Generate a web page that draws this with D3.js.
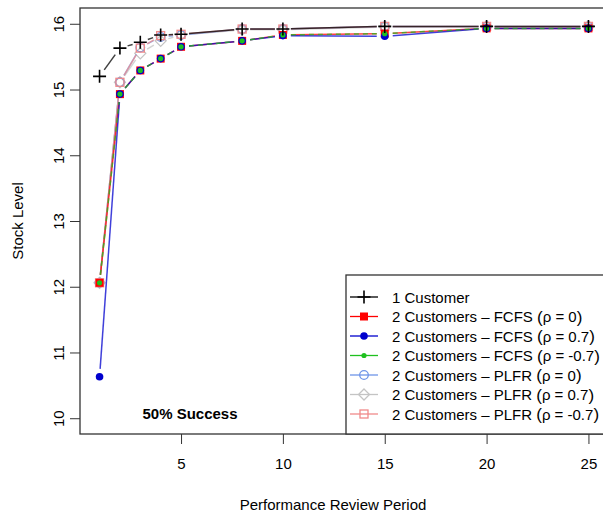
<!DOCTYPE html>
<html>
<head>
<meta charset="utf-8">
<script src="https://cdn.jsdelivr.net/npm/d3@7"></script>
<style>
  html, body { margin: 0; padding: 0; background: #fff; }
  svg { display: block; font-family: "Liberation Sans", Arial, Helvetica, sans-serif; }
</style>
</head>
<body>
<svg id="chart" width="603" height="517"></svg>
<script>
// Review periods on the x axis
const periods = [1, 2, 3, 4, 5, 8, 10, 15, 20, 25];

// Stock level for each policy and correlation
const oneCustomer = [15.20, 15.63, 15.72, 15.83, 15.84, 15.92, 15.92, 15.96, 15.96, 15.96];
const fcfsRho0    = [12.06, 14.93, 15.29, 15.47, 15.65, 15.74, 15.83, 15.85, 15.93, 15.93];
const fcfsRho07   = [10.63, 14.93, 15.29, 15.47, 15.65, 15.74, 15.82, 15.81, 15.93, 15.93];
const fcfsRhoM07  = [12.06, 14.93, 15.29, 15.47, 15.65, 15.74, 15.83, 15.85, 15.93, 15.93];
const plfrRho0    = [12.06, 15.11, 15.64, 15.80, 15.83, 15.92, 15.92, 15.96, 15.96, 15.96];
const plfrRho07   = [12.06, 15.11, 15.55, 15.74, 15.83, 15.91, 15.91, 15.95, 15.96, 15.96];
const plfrRhoM07  = [12.06, 15.11, 15.63, 15.82, 15.84, 15.92, 15.92, 15.96, 15.96, 15.96];

// Axis ticks
const xTicks = [5, 10, 15, 20, 25];
const yTicks = [10, 11, 12, 13, 14, 15, 16];

// Legend labels: prefix, rho value
const legendPrefix = ["1 Customer",
  "2 Customers \u2013 FCFS ", "2 Customers \u2013 FCFS ", "2 Customers \u2013 FCFS ",
  "2 Customers \u2013 PLFR ", "2 Customers \u2013 PLFR ", "2 Customers \u2013 PLFR "];
const legendRho = [null, "0", "0.7", "-0.7", "0", "0.7", "-0.7"];

const series = [
  { values: oneCustomer, color: "#000000", shape: "plus",    dash: null },
  { values: fcfsRho0,    color: "#ff0000", shape: "fsquare", dash: null },
  { values: fcfsRho07,   color: "#0000cd", shape: "fcircle", dash: null },
  { values: fcfsRhoM07,  color: "#1fc01f", shape: "dot",     dash: "5,4" },
  { values: plfrRho0,    color: "#6f95e8", shape: "ocircle", dash: null },
  { values: plfrRho07,   color: "#c4c4c4", shape: "diamond", dash: null },
  { values: plfrRhoM07,  color: "#f08a8a", shape: "osquare", dash: null }
];
// drawing order: PLFR first, then FCFS, then single customer on top
const drawOrder = [5, 4, 6, 1, 2, 3, 0];

const svg = d3.select("#chart");
svg.append("rect").attr("width", 603).attr("height", 517).attr("fill", "#fff");

const x = d3.scaleLinear().domain([0.04, 25.96]).range([80, 608]);
const y = d3.scaleLinear().domain([9.76, 16.24]).range([434, 8]);

function drawMarker(g, shape, color, cx, cy) {
  if (shape === "plus") {
    g.append("path").attr("d", `M${cx-6.5},${cy}H${cx+6.5}M${cx},${cy-6.5}V${cy+6.5}`)
      .attr("stroke", color).attr("stroke-width", 1.6).attr("fill", "none");
  } else if (shape === "fsquare") {
    g.append("rect").attr("x", cx-4).attr("y", cy-4).attr("width", 8).attr("height", 8)
      .attr("fill", color);
  } else if (shape === "fcircle") {
    g.append("circle").attr("cx", cx).attr("cy", cy).attr("r", 3.8).attr("fill", color);
  } else if (shape === "dot") {
    g.append("circle").attr("cx", cx).attr("cy", cy).attr("r", 2.6).attr("fill", color);
  } else if (shape === "ocircle") {
    g.append("circle").attr("cx", cx).attr("cy", cy).attr("r", 4.3)
      .attr("fill", "none").attr("stroke", color).attr("stroke-width", 1.3);
  } else if (shape === "diamond") {
    g.append("path").attr("d", `M${cx},${cy-5.5}L${cx+5.5},${cy}L${cx},${cy+5.5}L${cx-5.5},${cy}Z`)
      .attr("fill", "none").attr("stroke", color).attr("stroke-width", 1.3);
  } else if (shape === "osquare") {
    g.append("rect").attr("x", cx-4).attr("y", cy-4).attr("width", 8).attr("height", 8)
      .attr("fill", "none").attr("stroke", color).attr("stroke-width", 1.3);
  }
}

// Plot series as points joined by segments that stop short of each point
const gap = 8;
const plot = svg.append("g");
drawOrder.forEach(i => {
  const s = series[i];
  const g = plot.append("g");
  const pts = periods.map((p, k) => [x(p), y(s.values[k])]);
  for (let k = 0; k < pts.length - 1; k++) {
    const [x0, y0] = pts[k], [x1, y1] = pts[k + 1];
    const len = Math.hypot(x1 - x0, y1 - y0);
    if (len <= 2 * gap) continue;
    const ux = (x1 - x0) / len, uy = (y1 - y0) / len;
    g.append("line")
      .attr("x1", x0 + ux * gap).attr("y1", y0 + uy * gap)
      .attr("x2", x1 - ux * gap).attr("y2", y1 - uy * gap)
      .attr("stroke", s.color).attr("stroke-width", 1.5)
      .attr("stroke-opacity", 0.75)
      .attr("stroke-dasharray", s.dash);
  }
  pts.forEach(([cx, cy]) => drawMarker(g, s.shape, s.color, cx, cy));
});

// Axes
const xAxis = svg.append("g").attr("transform", "translate(0,434)")
  .call(d3.axisBottom(x).tickValues(xTicks).tickFormat(d3.format("d")).tickSize(10).tickPadding(14));
xAxis.select(".domain").remove();
xAxis.selectAll("line").attr("stroke", "#333");
xAxis.selectAll("text").attr("font-size", 15).attr("fill", "#000")
  .attr("font-family", "Liberation Sans, Arial, sans-serif");

const yAxis = svg.append("g").attr("transform", "translate(80,0)")
  .call(d3.axisLeft(y).tickValues(yTicks).tickFormat(d3.format("d")).tickSize(10));
yAxis.select(".domain").remove();
yAxis.selectAll("line").attr("stroke", "#333");
yAxis.selectAll("text")
  .attr("transform", "rotate(-90)")
  .attr("x", 0).attr("y", -16).attr("dy", 0)
  .attr("text-anchor", "middle")
  .attr("font-size", 15).attr("fill", "#000")
  .attr("font-family", "Liberation Sans, Arial, sans-serif");

// Plot frame
svg.append("rect").attr("x", 80).attr("y", 8).attr("width", 528).attr("height", 426)
  .attr("fill", "none").attr("stroke", "#333").attr("stroke-width", 1.3);

// Axis titles
svg.append("text").attr("x", 333).attr("y", 510).attr("text-anchor", "middle")
  .attr("font-size", 15).text("Performance Review Period");
svg.append("text").attr("transform", "translate(23,221) rotate(-90)")
  .attr("text-anchor", "middle").attr("font-size", 15).text("Stock Level");

// Annotation
svg.append("text").attr("x", 190).attr("y", 419).attr("text-anchor", "middle")
  .attr("font-size", 15).attr("font-weight", "bold").text("50% Success");

// Legend
const leg = svg.append("g");
leg.append("rect").attr("x", 346).attr("y", 275).attr("width", 262).attr("height", 159)
  .attr("fill", "#fff").attr("stroke", "#333").attr("stroke-width", 1.3);
series.forEach((s, i) => {
  const ly = 297 + i * 19.5;
  leg.append("line").attr("x1", 350).attr("x2", 378).attr("y1", ly).attr("y2", ly)
    .attr("stroke", s.color).attr("stroke-width", 1.3);
  drawMarker(leg, s.shape, s.color, 364, ly);
  const t = leg.append("text").attr("x", 392).attr("y", ly + 5.5).attr("font-size", 15);
  t.append("tspan").text(legendPrefix[i]);
  if (legendRho[i] !== null) {
    t.append("tspan").attr("font-size", 17).attr("dy", 0.5).text("(");
    t.append("tspan").attr("font-size", 15).attr("dy", -0.5).text("\u03c1 = " + legendRho[i]);
    t.append("tspan").attr("font-size", 17).attr("dy", 0.5).text(")");
  }
});
</script>
</body>
</html>
